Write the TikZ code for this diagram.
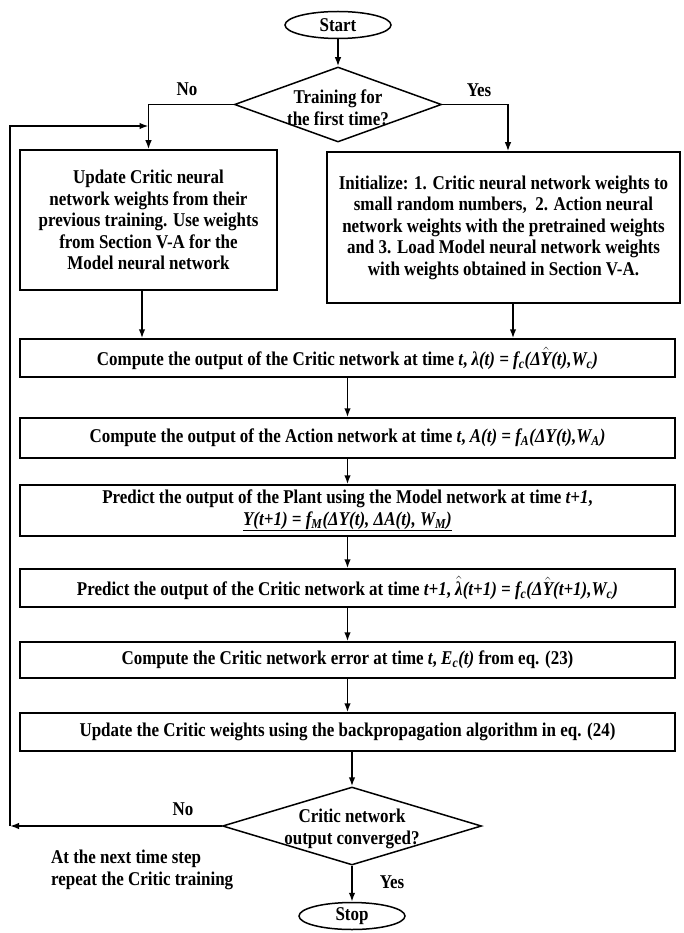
\documentclass[tikz,border=0pt]{standalone}
\usepackage{fontspec}
\setmainfont{Liberation Serif}[FakeStretch=0.87]
\usepackage{tikz}
\usetikzlibrary{arrows.meta,positioning,shapes.geometric}
\newcommand{\hatof}[1]{\ensuremath{\hat{\mbox{#1}}}}
\newcommand{\lowidx}[1]{\textsubscript{#1}}
\tikzset{
  flowline/.style={line width=1.5pt},
  flowarrow/.style={flowline,-{Latex[length=9pt,width=6.5pt]}},
  procbox/.style={draw,flowline,align=center,inner sep=3pt},
  decision/.style={draw,flowline,diamond,inner sep=0pt},
  terminal/.style={draw,flowline,ellipse,inner sep=0pt,minimum width=106pt,minimum height=27pt},
  answer/.style={inner sep=1pt}
}

\begin{document}
\begin{tikzpicture}[x=1pt,y=-1pt,font=\fontsize{19.5}{21.5}\selectfont\bfseries]
\useasboundingbox (0,0) rectangle (683,933);
% top part
\node[terminal] (start) at (338,25) {Start};
\node[decision,minimum width=207pt,minimum height=75pt] (trainq) at (338,104.5) {};
\node[align=center] (trainqtext) at (338,108) {Training for\\the first time?};
\node[answer] (no1) at (187,89) {No};
\node[answer] (yes1) at (479,90) {Yes};
\node[procbox,minimum width=257pt,minimum height=140pt] (update) at (148.5,220)
 {Update Critic neural\\network weights from their\\previous training. Use weights\\from Section V-A for the\\Model neural network};
\node[procbox,minimum width=353pt,minimum height=151pt] (init) at (503.5,227.5)
 {Initialize: 1. Critic neural network weights to\\small random numbers,~ 2. Action neural\\network weights with the pretrained weights\\and 3. Load Model neural network weights\\with weights obtained in Section V-A.};
% main column
\node[procbox,minimum width=655pt,minimum height=38pt] (critic) at (347.5,358)
 {Compute the output of the Critic network at time \textit{t}, \textit{λ(t) = f\lowidx{c}(Δ\hatof{Y}(t),W\lowidx{c})}};
\node[procbox,minimum width=655pt,minimum height=40pt] (action) at (347.5,438)
 {Compute the output of the Action network at time \textit{t}, \textit{A(t) = f\lowidx{A}(ΔY(t),W\lowidx{A})}};
\node[procbox,minimum width=655pt,minimum height=51pt] (model) at (347.5,510.5)
 {Predict the output of the Plant using the Model network at time \textit{t+1},\\
  \underline{\textit{Y(t+1) = f\lowidx{M}(ΔY(t), ΔA(t), W\lowidx{M})}}};
\node[procbox,minimum width=655pt,minimum height=38pt] (nextcritic) at (347.5,588)
 {Predict the output of the Critic network at time \textit{t+1}, \textit{\hatof{λ}(t+1) = f\lowidx{c}(Δ\hatof{Y}(t+1),W\lowidx{c})}};
\node[procbox,minimum width=655pt,minimum height=36pt] (error) at (347.5,660)
 {Compute the Critic network error at time \textit{t}, \textit{E\lowidx{c}(t)} from eq. (23)};
\node[procbox,minimum width=655pt,minimum height=38pt] (backprop) at (347.5,732)
 {Update the Critic weights using the backpropagation algorithm in eq. (24)};
% bottom part
\node[decision,minimum width=259pt,minimum height=78pt] (convq) at (352,826) {};
\node[align=center] (convqtext) at (352,829) {Critic network\\output converged?};
\node[answer] (no2) at (183,809) {No};
\node[answer] (yes2) at (392,882) {Yes};
\node[align=left,anchor=west,inner sep=0pt] (repeatnote) at (51,870) {At the next time step\\repeat the Critic training};
\node[terminal] (stop) at (352,916) {Stop};
\coordinate (looptop) at (10,126);

\draw[flowarrow] (start) -- (trainq);
\draw[flowarrow] (trainq.west) -| (update.north);
\draw[flowarrow] (trainq.east) -| ([xshift=4.5pt]init.north);
\draw[flowarrow] ([xshift=-6.5pt]update.south) -- ([xshift=-6.5pt]update.south |- critic.north);
\draw[flowarrow] ([xshift=9.5pt]init.south) -- ([xshift=9.5pt]init.south |- critic.north);
\draw[flowarrow] (critic) -- (action);
\draw[flowarrow] (action) -- (model);
\draw[flowarrow] (model) -- (nextcritic);
\draw[flowarrow] (nextcritic) -- (error);
\draw[flowarrow] (error) -- (backprop);
\draw[flowarrow] (backprop.south -| convq.north) -- (convq.north);
\draw[flowarrow] (convq) -- (stop);
% loop back to the critic update
\draw[flowarrow] (convq.west) -- (convq.west -| looptop);
\draw[flowarrow] (convq.west -| looptop) -- (looptop) -- (looptop -| update.north);
\end{tikzpicture}
\end{document}
